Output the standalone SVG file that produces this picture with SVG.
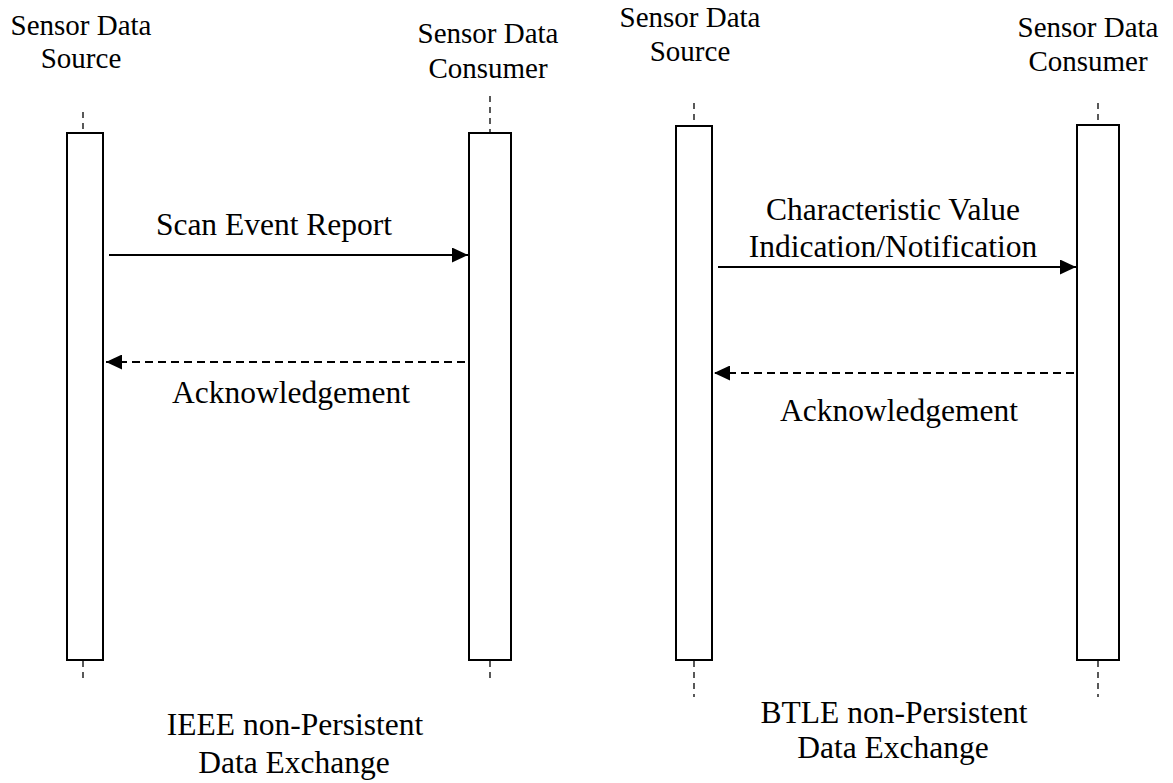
<svg xmlns="http://www.w3.org/2000/svg" width="1173" height="783" viewBox="0 0 1173 783">
<style>
text{font-family:"Liberation Serif","Times New Roman",serif;fill:#000;text-anchor:middle}
.hdr{font-size:29px}
.lbl{font-size:31.5px}
.box{fill:#fff;stroke:#000;stroke-width:2}
.life{stroke:#000;stroke-width:1.3;stroke-dasharray:6 5;fill:none}
.msg{stroke:#000;stroke-width:2;fill:none}
.dash{stroke-dasharray:8 5}
</style>
<defs>
<marker id="ah" markerWidth="16" markerHeight="15" refX="16" refY="7.5" orient="auto" markerUnits="userSpaceOnUse">
<path d="M0,0 L16,7.5 L0,15 Z" fill="#000"/>
</marker>
</defs>
<rect width="1173" height="783" fill="#fff"/>
<g id="ieee-source">
<text class="hdr" x="81" y="35">Sensor Data</text>
<text class="hdr" x="81" y="68">Source</text>
<line class="life" x1="83" y1="112" x2="83" y2="133"/>
<line class="life" x1="83" y1="661" x2="83" y2="679"/>
<rect class="box" x="67" y="133" width="36" height="527"/>
</g>
<g id="ieee-consumer">
<text class="hdr" x="488" y="43">Sensor Data</text>
<text class="hdr" x="488" y="78">Consumer</text>
<line class="life" x1="490" y1="96" x2="490" y2="133"/>
<line class="life" x1="490" y1="661" x2="490" y2="679"/>
<rect class="box" x="469" y="133" width="42" height="527"/>
</g>
<g id="btle-source">
<text class="hdr" x="690" y="27">Sensor Data</text>
<text class="hdr" x="690" y="61">Source</text>
<line class="life" x1="694" y1="103" x2="694" y2="126"/>
<line class="life" x1="694" y1="661" x2="694" y2="697"/>
<rect class="box" x="676" y="126" width="36" height="534"/>
</g>
<g id="btle-consumer">
<text class="hdr" x="1088" y="37">Sensor Data</text>
<text class="hdr" x="1088" y="71">Consumer</text>
<line class="life" x1="1098" y1="103" x2="1098" y2="125"/>
<line class="life" x1="1098" y1="661" x2="1098" y2="697"/>
<rect class="box" x="1077" y="125" width="42" height="535"/>
</g>
<g id="connectors">
<line class="msg" x1="109" y1="255" x2="468" y2="255" marker-end="url(#ah)"/>
<line class="msg dash" x1="465" y1="362" x2="106" y2="362" marker-end="url(#ah)"/>
<line class="msg" x1="718" y1="267" x2="1076" y2="267" marker-end="url(#ah)"/>
<line class="msg dash" x1="1074" y1="373" x2="714" y2="373" marker-end="url(#ah)"/>
</g>
<g id="labels">
<text class="lbl" x="274" y="235">Scan Event Report</text>
<text class="lbl" x="291" y="403">Acknowledgement</text>
<text class="lbl" x="893" y="220">Characteristic Value</text>
<text class="lbl" x="893" y="257">Indication/Notification</text>
<text class="lbl" x="899" y="421">Acknowledgement</text>
<text class="lbl" x="295" y="735">IEEE non-Persistent</text>
<text class="lbl" x="294" y="773">Data Exchange</text>
<text class="lbl" x="894" y="723">BTLE non-Persistent</text>
<text class="lbl" x="893" y="758">Data Exchange</text>
</g>
</svg>
